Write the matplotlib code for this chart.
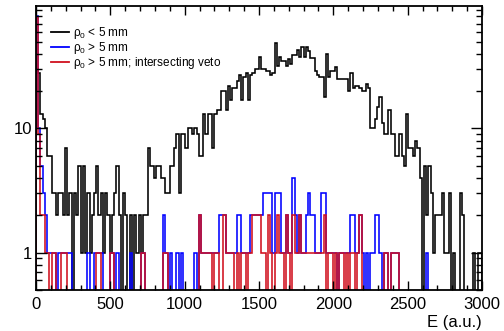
import numpy as np
import matplotlib
matplotlib.use("Agg")
from matplotlib import pyplot as plt
from matplotlib.ticker import FixedLocator, NullFormatter, MultipleLocator

plt.rcParams['font.family'] = ['Liberation Sans', 'DejaVu Sans']
plt.rcParams['mathtext.fontset'] = 'custom'
plt.rcParams['mathtext.rm'] = 'Liberation Sans'
plt.rcParams['mathtext.it'] = 'Liberation Sans:italic'

# histogram binning: 200 bins of 15 a.u. from 0 to 3000
edges = np.linspace(0, 3000, 201)

# rho0 < 5 mm
black = [
    30, 28, 13, 12, 10, 6, 6, 3, 3, 2,
    3, 3, 2, 7, 2, 3, 0, 3, 2, 5,
    1, 5, 1, 3, 1, 2, 3, 5, 2, 3,
    1, 3, 2, 1, 2, 3, 5, 2, 0, 3,
    2, 0, 2, 0, 2, 1, 2, 1, 2, 2,
    7, 5, 5, 4, 5, 5, 4, 4, 3, 3,
    5, 5, 7, 9, 3, 9, 9, 7, 10, 10,
    9, 10, 9, 6, 6, 13, 9, 13, 13, 7,
    13, 14, 14, 20, 20, 14, 22, 17, 21, 21,
    24, 27, 17, 26, 28, 17, 27, 28, 30, 30,
    38, 30, 30, 29, 29, 27, 28, 49, 32, 38,
    35, 35, 32, 36, 33, 39, 39, 43, 38, 45,
    38, 45, 42, 37, 37, 29, 27, 26, 26, 18,
    40, 26, 29, 29, 31, 25, 25, 25, 25, 25,
    20, 28, 21, 22, 22, 21, 20, 20, 23, 21,
    10, 10, 12, 15, 18, 11, 9, 9, 14, 9,
    9, 6, 6, 9, 6, 5, 13, 7, 7, 6,
    8, 7, 4, 0, 5, 2, 5, 3, 1, 2,
    2, 2, 3, 1, 1, 3, 0, 1, 0, 0,
    3, 2, 0, 0, 0, 0, 1, 0, 1, 1]

# rho0 > 5 mm
blue = [
    80, 10, 5, 3, 2, 1, 1, 1, 1, 0,
    1, 1, 1, 1, 1, 1, 0, 0, 0, 0,
    0, 0, 0, 1, 0, 0, 1, 1, 1, 1,
    0, 0, 0, 1, 1, 0, 1, 0, 0, 0,
    0, 0, 1, 0, 0, 0, 0, 1, 1, 0,
    0, 0, 0, 0, 0, 0, 0, 2, 1, 0,
    1, 0, 0, 1, 0, 1, 0, 0, 0, 0,
    0, 1, 0, 2, 1, 1, 1, 1, 1, 1,
    1, 1, 2, 2, 2, 1, 1, 1, 1, 1,
    2, 2, 1, 1, 1, 1, 2, 2, 2, 2,
    2, 2, 3, 3, 3, 3, 1, 3, 3, 3,
    1, 1, 2, 1, 1, 4, 2, 1, 2, 1,
    1, 2, 3, 2, 2, 1, 1, 1, 3, 3,
    1, 1, 1, 1, 1, 0, 1, 1, 1, 1,
    1, 2, 2, 1, 1, 2, 1, 0, 1, 0,
    1, 1, 2, 2, 1, 0, 1, 1, 0, 1,
    1, 1, 1, 0, 0, 0, 0, 0, 0, 0,
    0, 0, 0, 0, 0, 1, 0, 0, 0, 0,
    0, 0, 0, 0, 0, 0, 0, 0, 0, 0,
    0, 0, 0, 0, 0, 0, 0, 0, 0, 0]

# rho0 > 5 mm; intersecting veto
red = [
    78, 9, 2, 2, 1, 1, 0, 1, 1, 0,
    0, 1, 1, 1, 0, 0, 0, 0, 0, 0,
    0, 0, 0, 0, 0, 0, 0, 1, 1, 0,
    0, 0, 0, 1, 1, 0, 0, 0, 0, 0,
    0, 0, 0, 0, 0, 0, 0, 1, 1, 0,
    0, 0, 0, 0, 0, 0, 0, 1, 1, 0,
    0, 0, 0, 0, 0, 0, 0, 0, 0, 0,
    0, 0, 0, 2, 1, 1, 1, 1, 1, 0,
    1, 1, 0, 0, 2, 1, 1, 1, 1, 0,
    1, 0, 1, 1, 0, 1, 1, 2, 2, 2,
    2, 1, 1, 0, 2, 1, 0, 1, 2, 1,
    1, 0, 2, 1, 0, 2, 1, 1, 2, 1,
    1, 1, 1, 1, 1, 1, 1, 1, 1, 2,
    0, 1, 1, 0, 1, 0, 1, 1, 0, 1,
    0, 1, 1, 0, 1, 2, 0, 0, 0, 0,
    0, 0, 0, 0, 0, 0, 1, 1, 0, 1,
    1, 1, 1, 0, 0, 0, 0, 0, 0, 0,
    0, 0, 0, 0, 0, 0, 0, 0, 0, 0,
    0, 0, 0, 0, 0, 0, 0, 0, 0, 0,
    0, 0, 0, 0, 0, 0, 0, 0, 0, 0]

labels = [r'ρ$_\mathrm{0}$ < 5 mm', r'ρ$_\mathrm{0}$ > 5 mm',
          r'ρ$_\mathrm{0}$ > 5 mm; intersecting veto']
colors = ['black', '#0000ff', '#d0101e']

fig = plt.figure(figsize=(5.04, 3.31), dpi=100)
ax = fig.add_axes([36/504, 1-290/331, 446/504, 284/331])
ax.set_yscale('log')

# empty bins sit below the visible range, like ROOT does on log scale
for vals, c, lab in zip([black, blue, red], colors, labels):
    v = np.asarray(vals, dtype=float)
    v = np.where(v > 0, v, 0.05)
    ax.stairs(v, edges, baseline=0.05, color=c, lw=1.15, label=lab)

ax.set_xlim(0, 3000)
ax.set_ylim(0.5, 97)

ax.xaxis.set_major_locator(MultipleLocator(500))
ax.xaxis.set_minor_locator(MultipleLocator(100))
ax.yaxis.set_major_locator(FixedLocator([1, 10, 100]))
ax.set_yticklabels(['1', '10', '100'])
minors = [m * d for d in (0.1, 1, 10) for m in range(2, 10)]
ax.yaxis.set_minor_locator(FixedLocator(minors))
ax.yaxis.set_minor_formatter(NullFormatter())

ax.tick_params(which='both', direction='in', top=True, right=True, labelsize=12, width=1.0)
ax.tick_params(axis='x', which='major', length=6.5, pad=5)
ax.tick_params(axis='x', which='minor', length=3.3)
ax.tick_params(axis='y', which='major', length=8, pad=3)
ax.tick_params(axis='y', which='minor', length=4)
for s in ax.spines.values():
    s.set_linewidth(1.3)

ax.set_xlabel('E (a.u.)', fontsize=12, loc='right', labelpad=2.5)

leg = ax.legend(loc='upper left', bbox_to_anchor=(51/504, 1-25/331),
                bbox_transform=fig.transFigure, frameon=False, fontsize=8.5,
                handlelength=1.55, handletextpad=0.3, labelspacing=-0.1,
                borderpad=0, borderaxespad=0)
for h in leg.get_lines():
    h.set_linewidth(1.3)

plt.savefig('out.png', dpi=100)
